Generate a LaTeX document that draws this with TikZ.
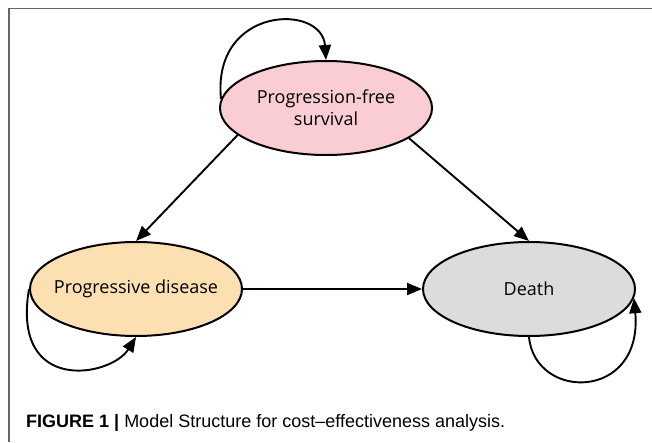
\documentclass[tikz,border=0pt]{standalone}
\usepackage{fontspec}
\newfontfamily\statefont{Open Sans}
\newfontfamily\capfont{Liberation Sans}
\usetikzlibrary{shapes.geometric,arrows.meta}
\definecolor{pfscolor}{RGB}{249,205,211}
\definecolor{pdcolor}{RGB}{252,224,178}
\definecolor{deathcolor}{RGB}{220,220,220}
\begin{document}
\begin{tikzpicture}
[x=1pt,y=-1pt,
 statedecorate/.style={shape=ellipse,draw,line width=2pt,inner xsep=-25pt,inner ysep=0pt,
   minimum width=212pt,minimum height=94pt,align=center,
   font=\statefont\fontsize{18}{22}\selectfont},%
 linedecorate/.style={-{Triangle[length=15pt,width=12pt]},line width=1.9pt},%
 framedecorate/.style={draw=black!60,line width=1.3pt}]
\useasboundingbox (0,0) rectangle (652,442);
%% frame
\draw[framedecorate] (9,442) -- (9,8.5) -- (652,8.5);
%% nodes or states
\foreach \nodename/\x/\y/\fillcolor/\nodetext in {
  pfs/326/108/pfscolor/{Progression-free\\survival},
  pd/136/289/pdcolor/{Progressive disease},
  death/529/289/deathcolor/{Death}}
{
  \node (\nodename) at (\x,\y) [statedecorate,fill=\fillcolor] {\nodetext};
}
%% edges or transitions
\path
\foreach \startnode/\endnode in {pfs.197/pd.north, pfs.340/death.north, pd.east/death.west} {
  (\startnode) edge[linedecorate] (\endnode)
};
%% self loops
\draw[linedecorate] (pfs.175) .. controls +(-9,-93) and +(-4,-57) .. (pfs.north);
\draw[linedecorate] (pd.west) .. controls +(-18,106) and +(-25,40) .. (pd.south);
\draw[linedecorate] (death.south) .. controls +(6,64) and +(9,103) .. (death.355);
%% caption
\node (caption) at (26,423) [anchor=west,inner sep=0pt,font=\capfont\fontsize{18}{20}\selectfont]
  {\textbf{FIGURE 1 |} Model Structure for cost–effectiveness analysis.};
\end{tikzpicture}
\end{document}
